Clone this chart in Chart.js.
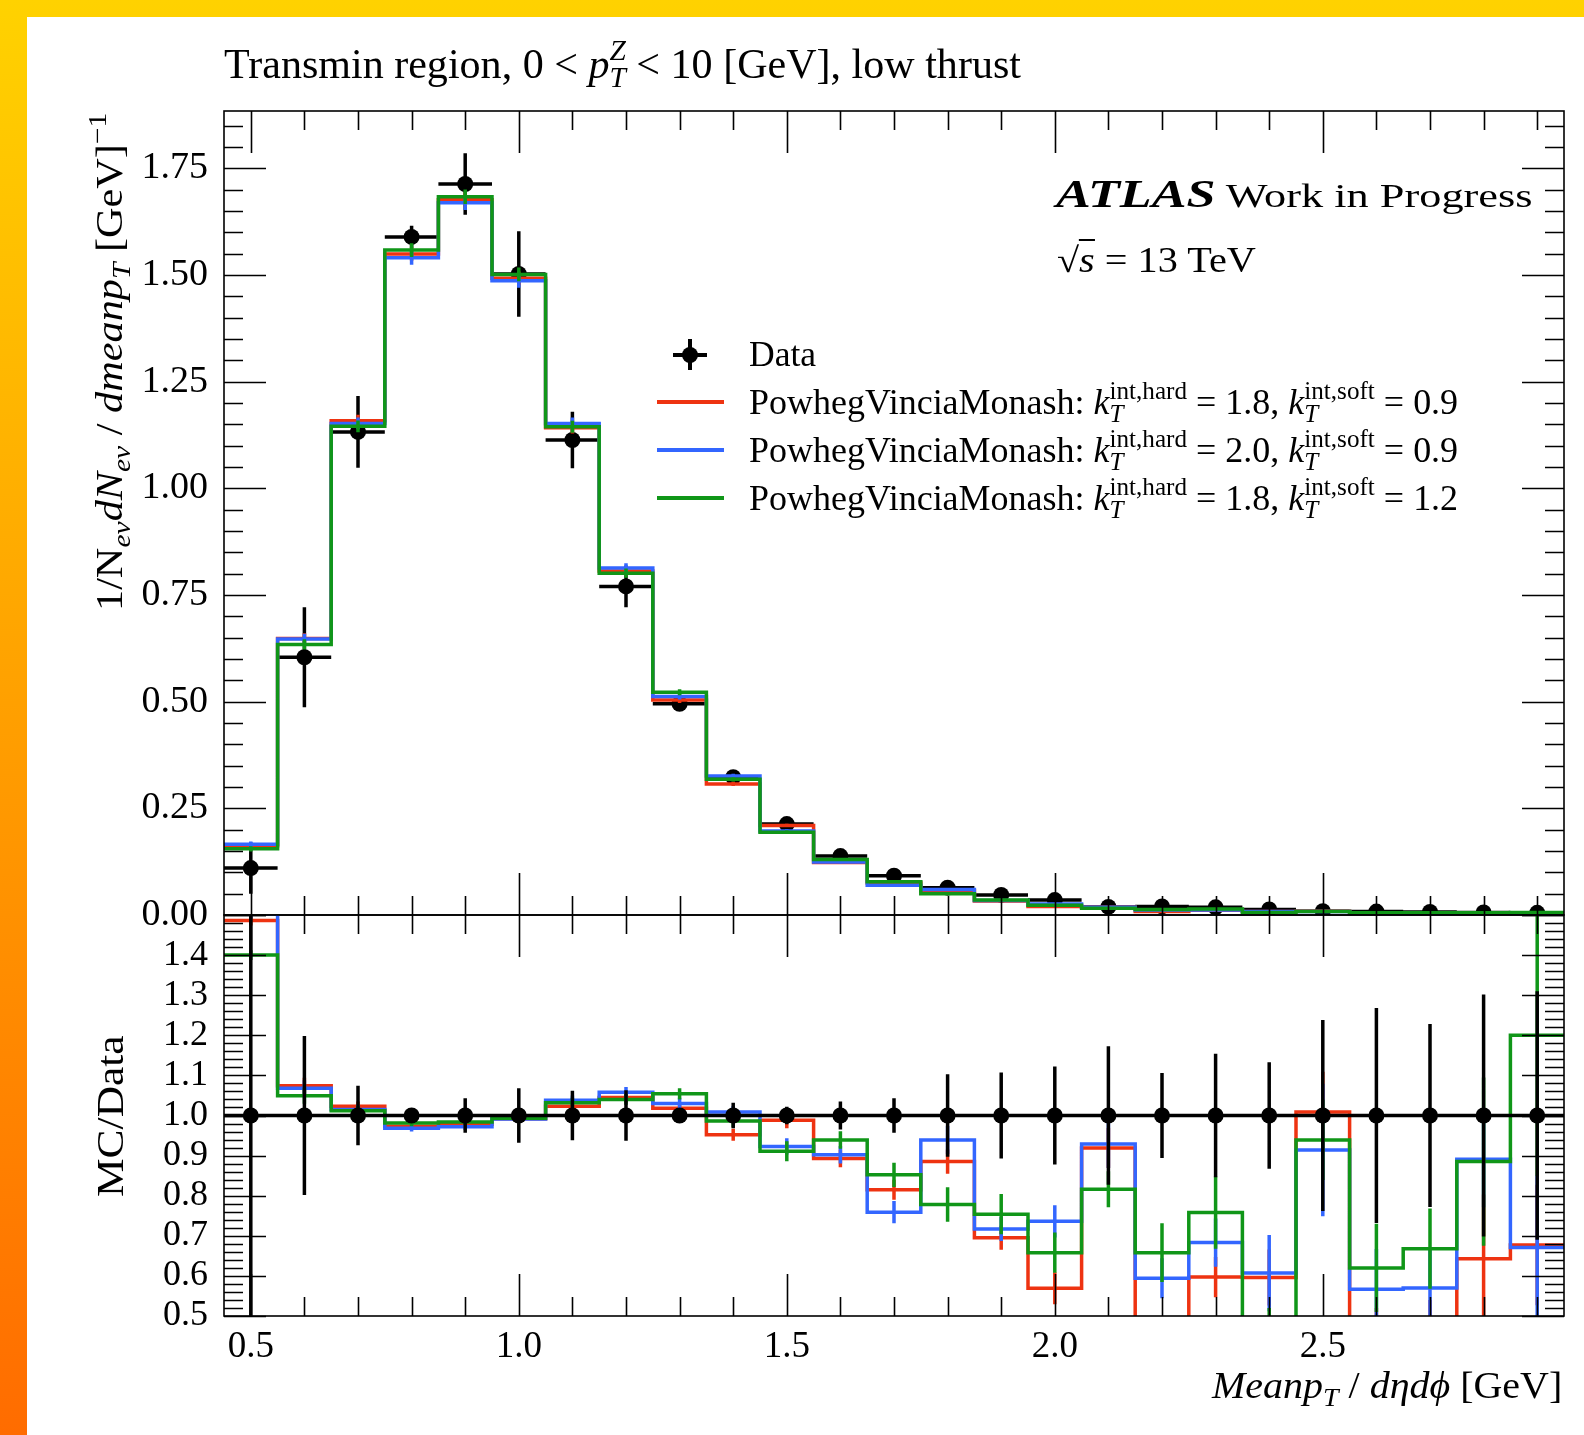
<!DOCTYPE html>
<html>
<head>
<meta charset="utf-8">
<title>Transmin region, low thrust</title>
<script src="https://cdn.jsdelivr.net/npm/chart.js@4.4.1/dist/chart.umd.min.js"></script>
<style>
  html, body { margin: 0; padding: 0; }
  body { width: 1584px; height: 1435px; position: relative; overflow: hidden;
         background: linear-gradient(to bottom, #ffd200, #ff6c00); }
  #paper { position: absolute; left: 27px; top: 17px; right: 0; bottom: 0; background: #fff; }
  canvas { position: absolute; left: 0; top: 0; }
  .txt { position: absolute; left: 0; top: 0; white-space: nowrap; line-height: 1; color: #000;
         font-family: "Liberation Serif", "DejaVu Serif", serif; transform-origin: 0 0; }
  .sb, .sp { font-size: 0.7em; position: relative; }
  .sb { top: 0.3em; }
  .sp { top: -0.62em; }
  .ss { display: inline-grid; font-size: 0.7em; }
  .ss > span { grid-area: 1 / 1; position: relative; }
  .ss > .u { top: -0.6em; }
  .ss > .d { top: 0.32em; }
  .mk { position: absolute; background: #000; }
</style>
</head>
<body>
<div id="paper"></div>
<canvas id="main" width="1584" height="1435"></canvas>
<canvas id="ratio" width="1584" height="1435"></canvas>

<div class="txt" id="title" style="font-size:42px">Transmin region, 0 &lt; <i>p</i><span class="ss"><span class="u"><i>Z</i></span><span class="d"><i>T</i></span></span> &lt; 10 [GeV], low thrust</div>
<div class="txt" id="atlas"><b><i style="font-size:40px">ATLAS</i></b><span style="font-size:34px"> Work in Progress</span></div>
<div class="txt" id="sqrts" style="font-size:35px">√<span style="border-top:2px solid #000"><i>s</i></span> = 13 TeV</div>

<div class="txt" id="lg0" style="font-size:35px">Data</div>
<div class="txt" id="lg1" style="font-size:35px">PowhegVinciaMonash: <i>k</i><span class="ss"><span class="u">int,hard</span><span class="d"><i>T</i></span></span> = 1.8, <i>k</i><span class="ss"><span class="u">int,soft</span><span class="d"><i>T</i></span></span> = 0.9</div>
<div class="txt" id="lg2" style="font-size:35px">PowhegVinciaMonash: <i>k</i><span class="ss"><span class="u">int,hard</span><span class="d"><i>T</i></span></span> = 2.0, <i>k</i><span class="ss"><span class="u">int,soft</span><span class="d"><i>T</i></span></span> = 0.9</div>
<div class="txt" id="lg3" style="font-size:35px">PowhegVinciaMonash: <i>k</i><span class="ss"><span class="u">int,hard</span><span class="d"><i>T</i></span></span> = 1.8, <i>k</i><span class="ss"><span class="u">int,soft</span><span class="d"><i>T</i></span></span> = 1.2</div>

<div class="mk" style="left:673px;top:353px;width:34px;height:3.5px"></div>
<div class="mk" style="left:688px;top:339px;width:3.5px;height:31px"></div>
<div class="mk" style="left:682px;top:347px;width:16px;height:16px;border-radius:50%"></div>
<div class="mk" style="left:657px;top:400px;width:67px;height:3.5px;background:#EE3311"></div>
<div class="mk" style="left:657px;top:448px;width:67px;height:3.5px;background:#3366FF"></div>
<div class="mk" style="left:657px;top:496px;width:67px;height:3.5px;background:#109618"></div>

<div class="txt" id="xt" style="font-size:37px"><i>Meanp</i><span class="sb"><i>T</i></span> / <i>dηdϕ</i> [GeV]</div>
<div class="txt" id="yt" style="font-size:37px">1/N<span class="sb"><i>ev</i></span><i>dN</i><span class="sb"><i>ev</i></span> / <i>dmeanp</i><span class="sb"><i>T</i></span> [GeV]<span class="sp">−1</span></div>
<div class="txt" id="mcd" style="font-size:37px">MC/Data</div>

<script>
// bins of mean pT / d eta d phi [GeV]
const binCenters = [0.5, 0.6, 0.7, 0.8, 0.9, 1.0, 1.1, 1.2, 1.3, 1.4, 1.5, 1.6, 1.7,
                    1.8, 1.9, 2.0, 2.1, 2.2, 2.3, 2.4, 2.5, 2.6, 2.7, 2.8, 2.9];
const binWidth = 0.1;

// upper panel
const dataVals = [0.110, 0.604, 1.132, 1.589, 1.713, 1.502, 1.113, 0.770, 0.495, 0.323, 0.213, 0.138, 0.092,
                  0.064, 0.047, 0.035, 0.019, 0.020, 0.018, 0.013, 0.009, 0.008, 0.007, 0.006, 0.005];
const dataErr  = [0.060, 0.117, 0.084, 0.026, 0.072, 0.100, 0.066, 0.049, 0.006, 0.010, 0.005, 0.005, 0.004,
                  0.007, 0.005, 0.004, 0.003, 0.002, 0.003, 0.002, 0.002, 0.002, 0.002, 0.002, 0.002];
const mcRed    = [0.162, 0.648, 1.158, 1.549, 1.676, 1.492, 1.142, 0.806, 0.504, 0.307, 0.210, 0.123, 0.075,
                  0.057, 0.033, 0.020, 0.018, 0.008, 0.011, 0.008, 0.009, 0.004, 0.003, 0.004, 0.003];
const mcBlue   = [0.166, 0.647, 1.152, 1.540, 1.669, 1.486, 1.152, 0.813, 0.512, 0.326, 0.197, 0.124, 0.070,
                  0.060, 0.034, 0.026, 0.018, 0.012, 0.012, 0.008, 0.008, 0.005, 0.004, 0.005, 0.003];
const mcGreen  = [0.155, 0.634, 1.145, 1.558, 1.683, 1.501, 1.144, 0.801, 0.522, 0.318, 0.194, 0.130, 0.078,
                  0.050, 0.035, 0.023, 0.016, 0.013, 0.014, 0.006, 0.008, 0.005, 0.005, 0.005, 0.006];
const mcErrMain = [0.006, 0.012, 0.014, 0.016, 0.017, 0.016, 0.014, 0.011, 0.007, 0.005, 0.004, 0.003, 0.002,
                   0.002, 0.002, 0.001, 0.001, 0.001, 0.001, 0.001, 0.001, 0.001, 0.001, 0.001, 0.001];

// lower panel, MC/Data
const ratioData    = [1, 1, 1, 1, 1, 1, 1, 1, 1, 1, 1, 1, 1, 1, 1, 1, 1, 1, 1, 1, 1, 1, 1, 1, 1];
const ratioDataErr = [0.55, 0.198, 0.074, 0.016, 0.043, 0.068, 0.062, 0.063, 0.012, 0.032, 0.022, 0.035, 0.043,
                      0.103, 0.107, 0.122, 0.173, 0.106, 0.154, 0.133, 0.238, 0.268, 0.228, 0.302, 0.31];
const ratioRed   = [1.486, 1.074, 1.023, 0.973, 0.978, 0.992, 1.023, 1.045, 1.018, 0.952, 0.988, 0.893, 0.815,
                    0.885, 0.695, 0.569, 0.919, 0.42, 0.597, 0.596, 1.009, 0.42, 0.42, 0.643, 0.677];
const ratioBlue  = [1.503, 1.068, 1.015, 0.968, 0.972, 0.991, 1.038, 1.058, 1.030, 1.009, 0.923, 0.902, 0.759,
                    0.939, 0.717, 0.736, 0.929, 0.594, 0.683, 0.607, 0.914, 0.567, 0.570, 0.891, 0.671];
const ratioGreen = [1.400, 1.049, 1.012, 0.981, 0.984, 0.993, 1.032, 1.040, 1.054, 0.986, 0.911, 0.939, 0.852,
                    0.778, 0.754, 0.658, 0.816, 0.658, 0.758, 0.42, 0.939, 0.620, 0.668, 0.885, 1.200];
const ratioErrRed   = [0.012, 0.02, 0.012, 0.008, 0.008, 0.01, 0.012, 0.013, 0.014, 0.015, 0.02, 0.022, 0.025,
                       0.03, 0.03, 0.04, 0.05, 0.07, 0.05, 0.07, 0.1, 0.1, 0.12, 0.16, 0.15];
const ratioErrBlue  = [0.012, 0.02, 0.012, 0.008, 0.008, 0.01, 0.012, 0.013, 0.014, 0.015, 0.02, 0.022, 0.028,
                       0.035, 0.03, 0.04, 0.06, 0.05, 0.06, 0.095, 0.165, 0.1, 0.1, 0.12, 0.18];
const ratioErrGreen = [0.012, 0.02, 0.012, 0.008, 0.008, 0.01, 0.012, 0.013, 0.014, 0.015, 0.025, 0.022, 0.03,
                       0.043, 0.05, 0.05, 0.045, 0.073, 0.09, 0.1, 0.1, 0.11, 0.1, 0.21, 0.35];

const xTickLabels = [0.5, 1.0, 1.5, 2.0, 2.5];
const yTickLabels = [0, 0.25, 0.5, 0.75, 1.0, 1.25, 1.5, 1.75];
const ratioTickLabels = [0.5, 0.6, 0.7, 0.8, 0.9, 1.0, 1.1, 1.2, 1.3, 1.4];

const RED = '#EE3311', BLUE = '#3366FF', GREEN = '#109618';
const LW = 3.5;

function histo(vals, color, errs) {
  const pts = vals.map((v, i) => ({ x: binCenters[i] - binWidth / 2, y: v }));
  pts.push({ x: binCenters[vals.length - 1] + binWidth / 2, y: vals[vals.length - 1] });
  return { data: pts, vals: vals, errs: errs, barColor: color, borderColor: color,
           borderWidth: LW, stepped: 'before', pointRadius: 0, fill: false };
}

function markers(vals, errs, xbar) {
  return { data: vals.map((v, i) => ({ x: binCenters[i], y: v })), vals: vals, errs: errs, xbar: xbar,
           barColor: '#000', showLine: false, pointRadius: 8, pointBackgroundColor: '#000',
           pointBorderWidth: 0, pointHoverRadius: 8 };
}

// vertical (and optional horizontal) error bars under each dataset
const errorBars = {
  id: 'errorBars',
  beforeDatasetDraw(chart, args) {
    const ds = chart.data.datasets[args.index];
    if (!ds.errs) return;
    const { ctx, chartArea: a, scales: { x, y } } = chart;
    ctx.save();
    ctx.beginPath();
    ctx.rect(a.left, a.top, a.right - a.left, a.bottom - a.top);
    ctx.clip();
    ctx.strokeStyle = ds.barColor;
    ctx.lineWidth = LW;
    ctx.beginPath();
    ds.vals.forEach((v, i) => {
      const px = x.getPixelForValue(binCenters[i]);
      ctx.moveTo(px, y.getPixelForValue(v - ds.errs[i]));
      ctx.lineTo(px, y.getPixelForValue(v + ds.errs[i]));
      if (ds.xbar) {
        const py = y.getPixelForValue(v);
        ctx.moveTo(x.getPixelForValue(binCenters[i] - binWidth / 2), py);
        ctx.lineTo(x.getPixelForValue(binCenters[i] + binWidth / 2), py);
      }
    });
    ctx.stroke();
    ctx.restore();
  }
};

// frame with inward ticks on all four sides
const frameTicks = {
  id: 'frameTicks',
  afterDraw(chart, args, opts) {
    const { ctx, chartArea: a, scales: { x, y } } = chart;
    ctx.save();
    ctx.strokeStyle = '#000';
    ctx.lineWidth = 1.6;
    ctx.strokeRect(a.left, a.top, a.right - a.left, a.bottom - a.top);
    ctx.beginPath();
    for (let k = 5; k <= 29; k++) {
      const px = Math.round(x.getPixelForValue(k / 10)) + 0.5;
      const len = k % 5 === 0 ? 42 : 19;
      ctx.moveTo(px, a.top); ctx.lineTo(px, a.top + len);
      ctx.moveTo(px, a.bottom); ctx.lineTo(px, a.bottom - len);
    }
    const n0 = Math.ceil(y.min / opts.minor - 1e-6), n1 = Math.floor(y.max / opts.minor + 1e-6);
    for (let n = n0; n <= n1; n++) {
      const py = Math.round(y.getPixelForValue(n * opts.minor)) + 0.5;
      const len = n % opts.every === 0 ? 42 : 19;
      ctx.moveTo(a.left, py); ctx.lineTo(a.left + len, py);
      ctx.moveTo(a.right, py); ctx.lineTo(a.right - len, py);
    }
    ctx.stroke();
    ctx.restore();
  }
};

const tickFont = { family: 'Liberation Serif', size: 38 };

new Chart(document.getElementById('main'), {
  type: 'line',
  data: { datasets: [
    histo(mcGreen, GREEN, mcErrMain),
    histo(mcBlue, BLUE, mcErrMain),
    histo(mcRed, RED, mcErrMain),
    markers(dataVals, dataErr, true)
  ] },
  options: {
    responsive: false, animation: false, events: [],
    layout: { padding: { left: 124, right: 20, top: 111, bottom: 520 } },
    plugins: { legend: { display: false }, tooltip: { enabled: false },
               frameTicks: { minor: 0.05, every: 5 } },
    scales: {
      x: { type: 'linear', min: 0.45, max: 2.95, display: false },
      y: { type: 'linear', min: 0, max: 1.884,
           afterBuildTicks: s => { s.ticks = yTickLabels.map(v => ({ value: v })); },
           afterFit: s => { s.width = 100; },
           grid: { display: false, drawTicks: false }, border: { display: false },
           ticks: { padding: 16, color: '#000', font: tickFont, autoSkip: false,
                    callback: v => v.toFixed(2) } }
    }
  },
  plugins: [errorBars, frameTicks]
});

new Chart(document.getElementById('ratio'), {
  type: 'line',
  data: { datasets: [
    markers(ratioData, ratioDataErr, false),
    Object.assign(histo(ratioData, '#000', null), { errs: null }),
    histo(ratioGreen, GREEN, ratioErrGreen),
    histo(ratioBlue, BLUE, ratioErrBlue),
    histo(ratioRed, RED, ratioErrRed)
  ] },
  options: {
    responsive: false, animation: false, events: [],
    layout: { padding: { left: 124, right: 20, top: 915, bottom: 59 } },
    plugins: { legend: { display: false }, tooltip: { enabled: false },
               frameTicks: { minor: 0.02, every: 5 } },
    scales: {
      x: { type: 'linear', min: 0.45, max: 2.95,
           afterBuildTicks: s => { s.ticks = xTickLabels.map(v => ({ value: v })); },
           afterFit: s => { s.height = 60; },
           grid: { display: false, drawTicks: false }, border: { display: false },
           ticks: { padding: 9, color: '#000', font: { family: 'Liberation Serif', size: 37 },
                    maxRotation: 0, autoSkip: false, callback: v => v.toFixed(1) } },
      y: { type: 'linear', min: 0.5, max: 1.5,
           afterBuildTicks: s => { s.ticks = ratioTickLabels.map(v => ({ value: v })); },
           afterFit: s => { s.width = 100; },
           grid: { display: false, drawTicks: false }, border: { display: false },
           ticks: { padding: 16, color: '#000', font: { family: 'Liberation Serif', size: 36 },
                    autoSkip: false, callback: v => v.toFixed(1) } }
    }
  },
  plugins: [errorBars, frameTicks]
});

// put a text block with its baseline at (x, base), stretched to width w
function place(id, x, base, w, rotated) {
  const el = document.getElementById(id);
  const m = document.createElement('span');
  m.style.display = 'inline-block';
  m.style.width = '0';
  m.style.height = '0';
  el.insertBefore(m, el.firstChild);
  const b = m.offsetTop;
  const s = w / el.offsetWidth;
  el.style.transformOrigin = '0px ' + b + 'px';
  el.style.left = x + 'px';
  el.style.top = (base - b) + 'px';
  el.style.transform = (rotated ? 'rotate(-90deg) ' : '') + 'scaleX(' + s + ')';
}

place('title', 224, 78, 797);
place('atlas', 1056, 207, 476);
place('sqrts', 1057, 272, 199);
place('lg0', 749, 366, 67);
place('lg1', 749, 414, 709);
place('lg2', 749, 462, 709);
place('lg3', 749, 510, 709);
place('xt', 1212, 1398, 350);
place('yt', 122, 611, 498, true);
place('mcd', 123, 1197, 162, true);
</script>
</body>
</html>
